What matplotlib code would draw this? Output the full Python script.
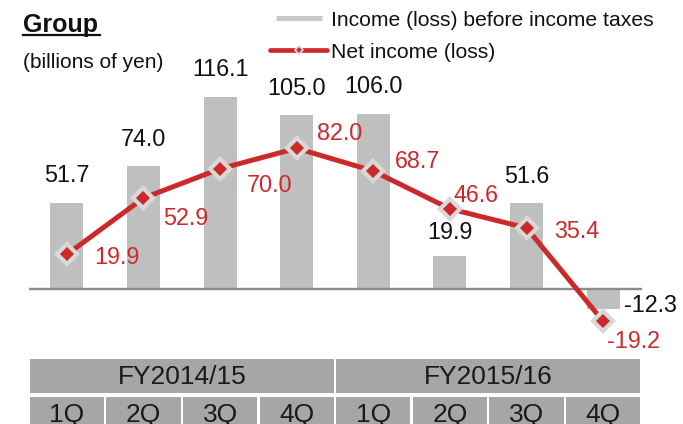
import matplotlib
matplotlib.use("Agg")
import matplotlib.pyplot as plt
from matplotlib.lines import Line2D
from matplotlib.patches import Rectangle

plt.rcParams['font.family'] = ['Liberation Sans', 'DejaVu Sans']

# ---------------- data ----------------
quarters = ['1Q', '2Q', '3Q', '4Q', '1Q', '2Q', '3Q', '4Q']
fiscal_years = ['FY2014/15', 'FY2015/16']
pretax_income = [51.7, 74.0, 116.1, 105.0, 106.0, 19.9, 51.6, -12.3]
net_income = [19.9, 52.9, 70.0, 82.0, 68.7, 46.6, 35.4, -19.2]
legend_labels = ['Income (loss) before income taxes', 'Net income (loss)']
title = 'Group'
unit_label = '(billions of yen)'

# ---------------- style ----------------
W, H = 683, 424
BAR_C = '#BFBFBF'
RED = '#CC2A2A'
MK_EDGE = '#D9D9D9'
TBL_C = '#A6A6A6'
NUM_FS = 16.8

def fx(px):
    return px / W

def fy(py):
    return 1 - py / H

fig = plt.figure(figsize=(W / 100, H / 100), dpi=100)

ax_left, ax_right = 28.5, 641.5
ax_top, ax_bot = 40, 340
zero_px = 288.5
bar_scale = 1.65   # px per unit
line_scale = 1.71

ax = fig.add_axes([fx(ax_left), fy(ax_bot), (ax_right - ax_left) / W, (ax_bot - ax_top) / H])
ax.set_xlim(-0.5, len(quarters) - 0.5)
ax.set_ylim(-(ax_bot - zero_px) / bar_scale, (zero_px - ax_top) / bar_scale)
ax.axis('off')

ax2 = ax.twinx()
ax2.set_ylim(-(ax_bot - zero_px) / line_scale, (zero_px - ax_top) / line_scale)
ax2.axis('off')

x = list(range(len(quarters)))
ax.bar(x, pretax_income, width=0.43, color=BAR_C, zorder=1)
ax.axhline(0, color='#8C8C8C', lw=1.7, zorder=2)

ax2.plot(x, net_income, color=RED, lw=3.6, marker='D', markersize=10,
         markerfacecolor=RED, markeredgecolor=MK_EDGE, markeredgewidth=3.0,
         zorder=5, solid_capstyle='butt')

# bar value labels (offsets in px: dx, baseline dy up positive)
px2pt = 0.72
bar_offsets = [(0, 20.7), (0, 20.7), (0, 20.7), (0, 20.7),
               (0, 20.7), (0, 16.7), (0, 20.7), (21, -3)]
for i, (v, (dx, dy)) in enumerate(zip(pretax_income, bar_offsets)):
    ax.annotate(f'{v:.1f}', xy=(i, v), xytext=(dx * px2pt, dy * px2pt),
                textcoords='offset points', ha='center' if v >= 0 else 'left',
                va='baseline', fontsize=NUM_FS, color='#111111', zorder=3)

# net income labels (offsets in px: dx to left edge, dy baseline, up positive)
red_offsets = [(27, -9.3), (20, -27.3), (27, -23.3), (20, 8.7),
               (22, 2.7), (4, 6.7), (28, -10.3), (4, -26.3)]
for i, (v, (dx, dy)) in enumerate(zip(net_income, red_offsets)):
    ax2.annotate(f'{v:.1f}', xy=(i, v), xytext=(dx * px2pt, dy * px2pt),
                 textcoords='offset points', ha='left', va='baseline',
                 fontsize=NUM_FS, color=RED, zorder=6)

# ---------------- table ----------------
tb_top, tb_bot = 359, 432
tax = fig.add_axes([fx(ax_left), fy(tb_bot), (ax_right - ax_left) / W, (tb_bot - tb_top) / H])
tax.set_xlim(-0.5, len(quarters) - 0.5)
tax.set_ylim(tb_bot - tb_top, 0)
tax.axis('off')
g = 0.015
n_per = len(quarters) // len(fiscal_years)
for k, fyl in enumerate(fiscal_years):
    x0 = k * n_per - 0.5
    tax.add_patch(Rectangle((x0 + g, 0), n_per - 2 * g, 34, color=TBL_C, lw=0))
    tax.text(x0 + n_per / 2, 18, fyl, ha='center', va='center', fontsize=19, color='#1A1A1A')
for i, q in enumerate(quarters):
    tax.add_patch(Rectangle((i - 0.5 + g, 38), 1 - 2 * g, 35, color=TBL_C, lw=0))
    tax.text(i, 56, q, ha='center', va='center', fontsize=19, color='#1A1A1A')

# ---------------- title ----------------
fig.text(fx(23), fy(32), title, fontsize=18, fontweight='bold', ha='left', va='baseline', color='#111111')
fig.add_artist(Line2D([fx(23), fx(100)], [fy(35), fy(35)], color='#111111', lw=1.6))
fig.text(fx(23), fy(68), unit_label, fontsize=15, ha='left', va='baseline', color='#111111')

# ---------------- legend ----------------
fig.add_artist(Line2D([fx(276), fx(322)], [fy(18), fy(18)], color='#C8C8C8', lw=3.6, solid_capstyle='butt'))
fig.text(fx(331), fy(26), legend_labels[0], fontsize=15.2, ha='left', va='baseline', color='#111111')
fig.add_artist(Line2D([fx(270), fx(327)], [fy(50), fy(50)], color=RED, lw=3.4, solid_capstyle='round'))
fig.add_artist(Line2D([fx(299)], [fy(50)], marker='D', markersize=4, markerfacecolor=RED,
                      markeredgecolor=MK_EDGE, markeredgewidth=1.2, lw=0))
fig.text(fx(331), fy(58), legend_labels[1], fontsize=15.2, ha='left', va='baseline', color='#111111')

fig.savefig('out.png', dpi=100)
